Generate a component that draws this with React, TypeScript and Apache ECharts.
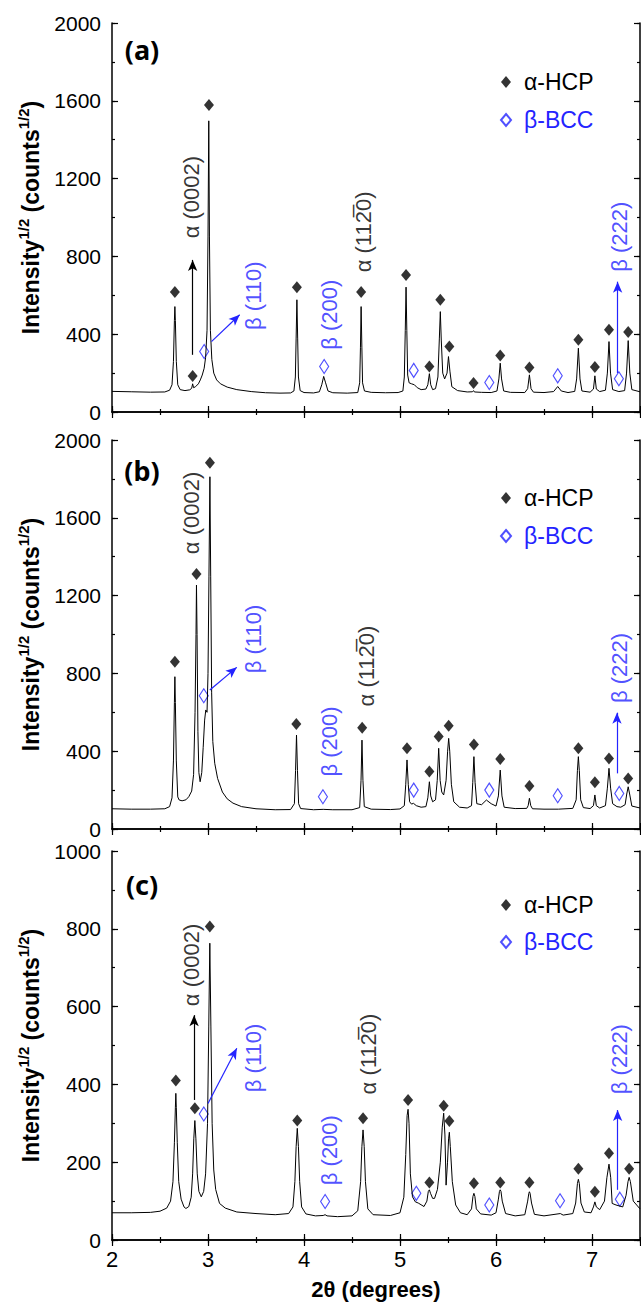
import React, { useEffect, useRef } from "react";
import * as echarts from "echarts";

// ---- diffraction traces: [2θ, intensity^1/2] ----
const traceA: number[][] = [
  [2.0, 106], [2.2, 104], [2.4, 102], [2.55, 103], [2.6, 112], [2.625, 140], [2.64, 260], [2.65, 470], [2.655, 542],
  [2.66, 470], [2.67, 260], [2.685, 140], [2.71, 115], [2.76, 110], [2.81, 114], [2.83, 122], [2.84, 145], [2.85, 125],
  [2.87, 130], [2.9, 145], [2.92, 165], [2.94, 190], [2.96, 225], [2.975, 280], [2.99, 420], [3.0, 900], [3.008, 1497],
  [3.015, 900], [3.025, 420], [3.04, 270], [3.06, 200], [3.09, 165], [3.13, 145], [3.2, 128], [3.3, 115], [3.45, 105],
  [3.6, 99], [3.75, 97], [3.86, 98], [3.895, 108], [3.91, 180], [3.918, 380], [3.926, 577], [3.934, 380], [3.942, 180],
  [3.96, 110], [4.0, 100], [4.1, 98], [4.16, 104], [4.185, 140], [4.205, 183], [4.225, 150], [4.25, 108], [4.3, 99],
  [4.45, 97], [4.56, 100], [4.58, 150], [4.588, 330], [4.595, 542], [4.603, 330], [4.61, 150], [4.63, 108], [4.7, 101],
  [4.85, 99], [4.98, 100], [5.03, 108], [5.045, 180], [5.055, 420], [5.063, 642], [5.071, 420], [5.08, 190], [5.095, 150],
  [5.12, 145], [5.15, 140], [5.18, 125], [5.22, 115], [5.27, 118], [5.29, 140], [5.306, 197], [5.32, 140], [5.34, 115],
  [5.37, 120], [5.395, 180], [5.41, 380], [5.42, 516], [5.43, 370], [5.445, 200], [5.465, 170], [5.49, 200], [5.505, 285],
  [5.52, 210], [5.54, 130], [5.6, 110], [5.7, 103], [5.755, 104], [5.766, 110], [5.775, 103], [5.85, 101], [5.95, 100],
  [6.01, 108], [6.03, 170], [6.044, 251], [6.058, 170], [6.08, 108], [6.15, 101], [6.3, 100], [6.33, 120], [6.348, 191],
  [6.365, 120], [6.39, 102], [6.5, 100], [6.6, 105], [6.643, 131], [6.68, 108], [6.75, 100], [6.82, 106], [6.84, 170],
  [6.858, 328], [6.875, 170], [6.895, 108], [6.98, 102], [7.015, 118], [7.03, 186], [7.045, 118], [7.08, 105], [7.14, 112],
  [7.16, 200], [7.177, 362], [7.193, 200], [7.215, 115], [7.28, 105], [7.34, 110], [7.36, 200], [7.377, 367], [7.394, 200],
  [7.415, 115], [7.5, 104],
];

const traceB: number[][] = [
  [2.0, 104], [2.2, 102], [2.4, 102], [2.55, 104], [2.6, 115], [2.625, 160], [2.64, 350], [2.65, 650], [2.655, 783],
  [2.66, 650], [2.67, 350], [2.685, 165], [2.7, 149], [2.73, 145], [2.77, 150], [2.8, 166], [2.83, 195], [2.85, 280],
  [2.865, 600], [2.875, 1000], [2.88, 1254], [2.886, 1000], [2.895, 500], [2.905, 290], [2.918, 243], [2.935, 290],
  [2.95, 420], [2.965, 560], [2.977, 612], [2.99, 600], [3.0, 800], [3.01, 1300], [3.02, 1811], [3.028, 1300], [3.038, 700],
  [3.05, 450], [3.07, 338], [3.1, 260], [3.15, 190], [3.2, 155], [3.26, 133], [3.35, 115], [3.5, 104], [3.7, 99],
  [3.86, 100], [3.9, 130], [3.912, 300], [3.922, 483], [3.932, 300], [3.944, 130], [3.965, 105], [4.1, 99], [4.2, 101],
  [4.3, 99], [4.5, 99], [4.58, 110], [4.594, 250], [4.604, 457], [4.614, 250], [4.628, 115], [4.7, 102], [4.9, 100],
  [5.0, 103], [5.045, 120], [5.06, 230], [5.073, 355], [5.086, 230], [5.1, 140], [5.12, 128], [5.14, 132], [5.17, 120],
  [5.22, 112], [5.27, 115], [5.29, 160], [5.306, 243], [5.32, 170], [5.34, 140], [5.37, 150], [5.388, 250], [5.403, 415],
  [5.418, 250], [5.435, 190], [5.455, 175], [5.48, 250], [5.496, 400], [5.507, 466], [5.518, 400], [5.535, 230], [5.56, 140],
  [5.62, 112], [5.7, 108], [5.745, 120], [5.758, 240], [5.77, 372], [5.782, 240], [5.8, 130], [5.85, 125], [5.9, 149],
  [5.95, 130], [6.0, 118], [6.025, 170], [6.044, 303], [6.062, 170], [6.085, 112], [6.2, 105], [6.32, 106], [6.335, 120],
  [6.348, 158], [6.362, 120], [6.38, 104], [6.5, 102], [6.65, 102], [6.8, 106], [6.835, 150], [6.848, 300], [6.858, 372],
  [6.868, 300], [6.882, 150], [6.91, 110], [6.98, 105], [7.015, 120], [7.03, 175], [7.045, 120], [7.08, 108], [7.14, 120],
  [7.16, 210], [7.177, 312], [7.194, 210], [7.215, 130], [7.26, 115], [7.3, 112], [7.345, 125], [7.362, 180], [7.377, 217],
  [7.392, 180], [7.415, 118], [7.5, 108],
];

const traceC: number[][] = [
  [2.0, 70], [2.2, 70], [2.4, 71], [2.5, 74], [2.57, 82], [2.61, 100], [2.635, 150], [2.65, 250], [2.66, 340], [2.665, 377],
  [2.67, 340], [2.68, 250], [2.695, 150], [2.72, 105], [2.75, 85], [2.77, 81], [2.8, 86], [2.825, 110], [2.84, 170],
  [2.852, 260], [2.863, 307], [2.874, 260], [2.888, 170], [2.905, 125], [2.93, 111], [2.955, 125], [2.975, 170], [2.995, 300],
  [3.008, 550], [3.019, 763], [3.03, 550], [3.043, 300], [3.06, 180], [3.08, 130], [3.12, 94], [3.18, 82], [3.3, 72],
  [3.5, 68], [3.7, 65], [3.84, 68], [3.885, 85], [3.905, 150], [3.918, 240], [3.93, 287], [3.942, 240], [3.955, 150],
  [3.975, 85], [4.02, 67], [4.12, 62], [4.2, 63], [4.22, 65], [4.24, 62], [4.35, 60], [4.5, 62], [4.56, 75], [4.59, 150],
  [4.603, 240], [4.615, 283], [4.627, 240], [4.64, 150], [4.665, 80], [4.72, 65], [4.9, 63], [5.0, 70], [5.04, 110],
  [5.06, 220], [5.074, 320], [5.084, 336], [5.094, 300], [5.108, 170], [5.13, 111], [5.16, 98], [5.19, 95], [5.25, 86],
  [5.28, 100], [5.295, 125], [5.306, 129], [5.318, 120], [5.34, 107], [5.36, 107], [5.39, 130], [5.42, 200], [5.44, 290],
  [5.455, 326], [5.468, 270], [5.48, 141], [5.495, 200], [5.506, 260], [5.514, 277], [5.524, 240], [5.545, 150], [5.58, 90],
  [5.63, 70], [5.7, 65], [5.745, 80], [5.76, 112], [5.77, 120], [5.78, 112], [5.795, 80], [5.84, 67], [5.95, 64], [6.0, 70],
  [6.025, 105], [6.036, 125], [6.044, 129], [6.052, 125], [6.065, 100], [6.1, 68], [6.2, 62], [6.3, 65], [6.33, 100],
  [6.342, 120], [6.348, 124], [6.355, 120], [6.37, 95], [6.4, 66], [6.5, 62], [6.67, 68], [6.7, 64], [6.8, 68], [6.83, 95],
  [6.848, 145], [6.858, 156], [6.868, 145], [6.885, 95], [6.92, 72], [6.99, 70], [7.015, 85], [7.03, 98], [7.045, 85],
  [7.08, 78], [7.13, 100], [7.155, 160], [7.177, 195], [7.195, 160], [7.21, 94], [7.25, 90], [7.32, 85], [7.355, 115],
  [7.375, 150], [7.387, 161], [7.4, 150], [7.43, 100], [7.5, 80],
];

// ---- phase markers ----
const alphaA = [[2.655, 617], [2.84, 185], [3.01, 1578], [3.926, 642], [4.595, 617], [5.063, 705], [5.306, 234], [5.42, 577], [5.514, 337], [5.766, 149], [6.044, 291], [6.348, 229], [6.858, 371], [7.03, 231], [7.177, 423], [7.377, 411]];
const betaA = [[2.96, 311], [4.21, 234], [5.143, 214], [5.93, 152], [6.643, 186], [7.28, 171]];
const alphaB = [[2.655, 860], [2.88, 1311], [3.02, 1883], [3.92, 540], [4.606, 521], [5.073, 415], [5.306, 295], [5.403, 475], [5.507, 531], [5.77, 435], [6.044, 360], [6.348, 221], [6.858, 415], [7.03, 240], [7.177, 363], [7.377, 260]];
const betaB = [[2.956, 685], [4.197, 166], [5.143, 200], [5.93, 200], [6.643, 171], [7.284, 183]];
const alphaC = [[2.665, 410], [2.863, 339], [3.019, 806], [3.93, 307], [4.615, 313], [5.084, 360], [5.306, 148], [5.455, 345], [5.514, 306], [5.77, 146], [6.044, 148], [6.348, 148], [6.858, 183], [7.03, 124], [7.177, 223], [7.387, 183]];
const betaC = [[2.956, 324], [4.22, 99], [5.17, 120], [5.93, 90], [6.667, 101], [7.29, 105]];

// ---- reflection labels [x, y, text] ----
const A0002 = "α (0002)";
const A1120 = "α (112\u03050)";
const B110 = "β (110)";
const B200 = "β (200)";
const B222 = "β (222)";
const labelsBlackA = [[2.83, 1105, A0002], [4.62, 926, A1120]];
const labelsBlueA = [[3.47, 598, B110], [4.27, 500, B200], [7.29, 901, B222]];
const labelsBlackB = [[2.83, 1625, A0002], [4.65, 838, A1120]];
const labelsBlueB = [[3.47, 977, B110], [4.27, 450, B200], [7.29, 828, B222]];
const labelsBlackC = [[2.83, 707, A0002], [4.67, 478, A1120]];
const labelsBlueC = [[3.47, 468, B110], [4.27, 231, B200], [7.29, 465, B222]];

// ---- arrows [from, to] ----
const arrowsBlackA = [[[2.84, 294], [2.84, 782]]];
const arrowsBlueA = [[[3.036, 362], [3.33, 500]], [[7.267, 200], [7.267, 670]]];
const arrowsBlackB: number[][][] = [];
const arrowsBlueB = [[[3.019, 715], [3.3, 831]], [[7.26, 286], [7.26, 598]]];
const arrowsBlackC = [[[2.855, 360], [2.855, 578]]];
const arrowsBlueC = [[[3.0, 351], [3.3, 493]], [[7.267, 129], [7.267, 334]]];

const panelNames = ["(a)", "(b)", "(c)"];
const yMaxes = [2000, 2000, 1000];
const yMajor = [400, 400, 200];
const xMin = 2;
const xMax = 7.5;
const legendNames = ["α-HCP", "β-BCC"];
const xTitle = "2θ (degrees)";

const BLUE = "#2424ff";
const FONT = "Liberation Sans";

const gridTops = [23, 440, 851];
const GRID_H = 389;
const GRID_LEFT = 112;
const GRID_W = 528;
const labelCenters = [49, 470, 884];
const legendTops = [64, 480, 887];

export default function App() {
  const ref = useRef<HTMLDivElement>(null);

  useEffect(() => {
    document.body.style.margin = "0";
    if (!ref.current) return;
    const chart = echarts.init(ref.current, undefined, { renderer: "svg" });

    const traces = [traceA, traceB, traceC];
    const alphas = [alphaA, alphaB, alphaC];
    const betas = [betaA, betaB, betaC];
    const lblBlack = [labelsBlackA, labelsBlackB, labelsBlackC];
    const lblBlue = [labelsBlueA, labelsBlueB, labelsBlueC];
    const arBlack = [arrowsBlackA, arrowsBlackB, arrowsBlackC];
    const arBlue = [arrowsBlueA, arrowsBlueB, arrowsBlueC];

    const grids: any[] = [];
    const xAxes: any[] = [];
    const yAxes: any[] = [];
    const series: any[] = [];
    const legends: any[] = [];
    const graphics: any[] = [];

    const lineStyle = { color: "#000", width: 1.5 };
    const tickStyle = { color: "#000", width: 1.2 };

    for (let g = 0; g < 3; g++) {
      grids.push({ left: GRID_LEFT, top: gridTops[g], width: GRID_W, height: GRID_H });
      const isLast = g === 2;
      const xBase = {
        gridIndex: g, type: "value", min: xMin, max: xMax,
        splitLine: { show: false }, silent: true,
      };
      // bottom major
      xAxes.push({
        ...xBase, position: "bottom", interval: 1,
        axisLine: { show: true, lineStyle },
        axisTick: { show: true, inside: true, length: 6, lineStyle: tickStyle },
        axisLabel: {
          show: isLast, margin: 8, fontSize: 22, color: "#000", fontFamily: FONT, showMaxLabel: false,
          formatter: (v: number) => String(v),
        },
        name: isLast ? xTitle : "",
        nameLocation: "middle", nameGap: 38,
        nameTextStyle: { fontSize: 22, fontWeight: "bold", color: "#000", fontFamily: FONT },
      });
      // bottom minor
      xAxes.push({
        ...xBase, position: "bottom", interval: 0.5,
        axisLine: { show: false },
        axisTick: { show: true, inside: true, length: 3, lineStyle: tickStyle },
        axisLabel: { show: false },
      });
      // top major
      xAxes.push({
        ...xBase, position: "top", interval: 1,
        axisLine: { show: true, lineStyle },
        axisTick: { show: true, inside: true, length: 6, lineStyle: tickStyle },
        axisLabel: { show: false },
      });
      // top minor
      xAxes.push({
        ...xBase, position: "top", interval: 0.5,
        axisLine: { show: false },
        axisTick: { show: true, inside: true, length: 3, lineStyle: tickStyle },
        axisLabel: { show: false },
      });

      const yBase = {
        gridIndex: g, type: "value", min: 0, max: yMaxes[g],
        splitLine: { show: false }, silent: true,
      };
      yAxes.push({
        ...yBase, position: "left", interval: yMajor[g],
        axisLine: { show: true, lineStyle },
        axisTick: { show: true, inside: true, length: 6, lineStyle: tickStyle },
        axisLabel: {
          show: true, margin: 11, fontSize: 21, lineHeight: 18, color: "#000", fontFamily: FONT,
          formatter: (v: number) => String(v),
        },
        name: "{b|Intensity}{s|1/2}{b| (counts}{s|1/2}{b|)}",
        nameLocation: "middle", nameGap: 70, nameRotate: 90,
        nameTextStyle: {
          fontFamily: FONT, color: "#000",
          rich: {
            b: { fontSize: 23, fontWeight: "bold", fontFamily: FONT, color: "#000", lineHeight: 26, verticalAlign: "bottom" },
            s: { fontSize: 15, fontWeight: "bold", fontFamily: FONT, color: "#000", lineHeight: 15, verticalAlign: "top" },
          },
        },
      });
      yAxes.push({
        ...yBase, position: "left", interval: yMajor[g] / 2,
        axisLine: { show: false },
        axisTick: { show: true, inside: true, length: 3, lineStyle: tickStyle },
        axisLabel: { show: false },
      });
      yAxes.push({
        ...yBase, position: "right", interval: yMajor[g],
        axisLine: { show: true, lineStyle },
        axisTick: { show: true, inside: true, length: 6, lineStyle: tickStyle },
        axisLabel: { show: false },
      });
      yAxes.push({
        ...yBase, position: "right", interval: yMajor[g] / 2,
        axisLine: { show: false },
        axisTick: { show: true, inside: true, length: 3, lineStyle: tickStyle },
        axisLabel: { show: false },
      });

      const xi = g * 4;
      const yi = g * 4;
      const mk = (arr: number[][][], color: string) => ({
        silent: true, animation: false,
        symbol: ["none", "arrow"], symbolSize: [7, 11],
        label: { show: false },
        lineStyle: { color, width: 1.2, type: "solid" },
        data: arr.map(([a, b]) => [{ coord: a }, { coord: b }]),
      });

      series.push({
        type: "line", xAxisIndex: xi, yAxisIndex: yi, data: traces[g],
        showSymbol: false, symbol: "none", silent: true,
        lineStyle: { color: "#000", width: 1 },
        markLine: mk(arBlack[g], "#000"),
      });
      series.push({
        name: legendNames[0], type: "scatter", xAxisIndex: xi, yAxisIndex: yi, data: alphas[g],
        symbol: "diamond", symbolSize: [10, 12], silent: true,
        itemStyle: { color: "#000" },
      });
      series.push({
        name: legendNames[1], type: "scatter", xAxisIndex: xi, yAxisIndex: yi, data: betas[g],
        symbol: "diamond", symbolSize: [9, 14], silent: true,
        itemStyle: { color: "rgba(255,255,255,0)", borderColor: BLUE, borderWidth: 1.2 },
        markLine: mk(arBlue[g], BLUE),
      });
      const labelSeries = (rows: any[][], color: string) => ({
        type: "scatter", xAxisIndex: xi, yAxisIndex: yi, silent: true,
        symbolSize: 0,
        data: rows.map((r) => ({ value: [r[0], r[1]], name: r[2] })),
        label: {
          show: true, position: "inside", rotate: 90, formatter: "{b}",
          fontSize: 22, color, fontFamily: FONT,
        },
      });
      series.push(labelSeries(lblBlack[g], "#000"));
      series.push(labelSeries(lblBlue[g], BLUE));

      legends.push({
        left: 495, top: legendTops[g], orient: "vertical",
        itemWidth: 10, itemHeight: 12, itemGap: g === 2 ? 11 : 12,
        selectedMode: false,
        textStyle: { fontSize: 23, fontFamily: FONT, lineHeight: 26, padding: [0, 0, 0, 8] },
        data: [
          { name: legendNames[0], textStyle: { color: "#000" } },
          { name: legendNames[1], textStyle: { color: BLUE } },
        ],
      });

      graphics.push({
        type: "text", x: 142, y: labelCenters[g], silent: true,
        style: {
          text: panelNames[g], textAlign: "center", textVerticalAlign: "middle",
          font: "bold 27px Noto Sans", fill: "#000",
        },
      });
    }

    chart.setOption({
      animation: false,
      backgroundColor: "#fff",
      grid: grids,
      xAxis: xAxes,
      yAxis: yAxes,
      legend: legends,
      series,
      graphic: graphics,
    });

    return () => chart.dispose();
  }, []);

  return <div ref={ref} style={{ width: 641, height: 1307 }} />;
}
